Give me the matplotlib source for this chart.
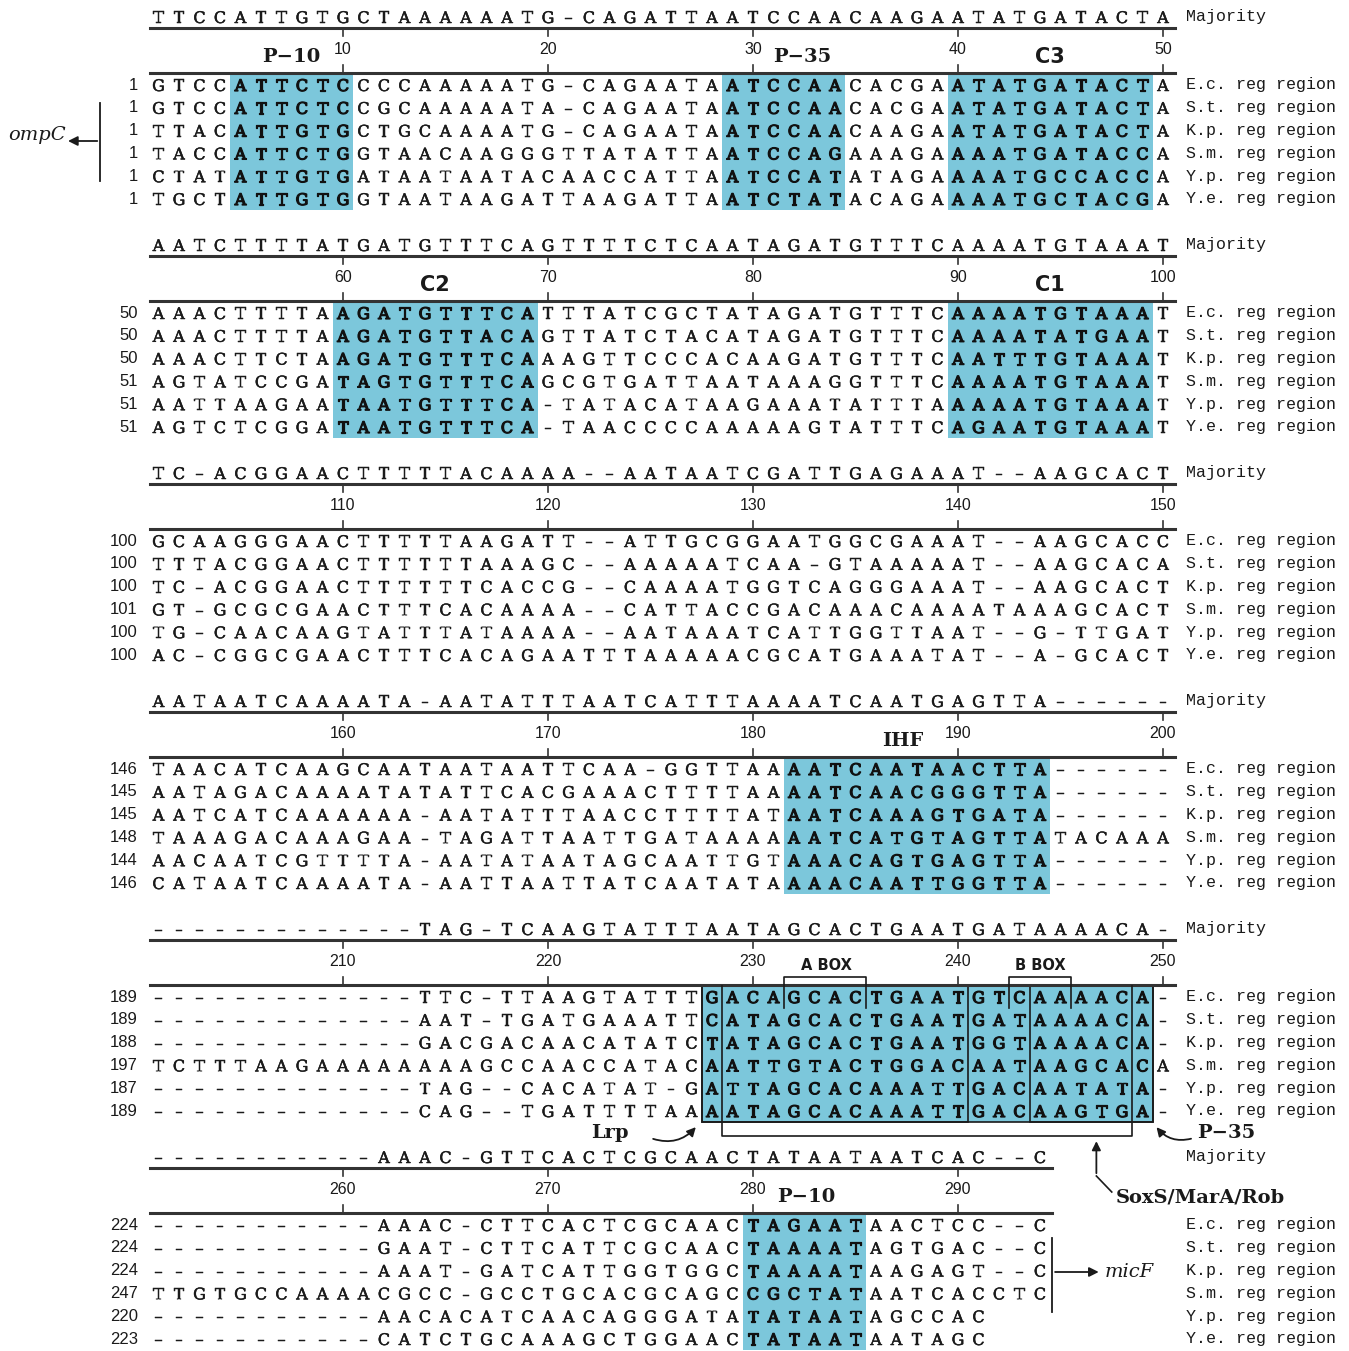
import matplotlib
matplotlib.use('Agg')
import matplotlib.pyplot as plt
import matplotlib.patheffects as pe
from matplotlib.patches import Rectangle

species = ['E.c.', 'S.t.', 'K.p.', 'S.m.', 'Y.p.', 'Y.e.']

majority = [
    'TTCCATTGTGCTAAAAAATG-CAGATTAATCCAACAAGAATATGATACTA',
    'AATCTTTTATGATGTTTCAGTTTTCTCAATAGATGTTTCAAAATGTAAAT',
    'TC-ACGGAACTTTTTACAAAA--AATAATCGATTGAGAAAT--AAGCACT',
    'AATAATCAAAATA-AATATTTAATCATTTAAAATCAATGAGTTA------',
    '-------------TAG-TCAAGTATTTAATAGCACTGAATGATAAAACA-',
    '-----------AAAC-GTTCACTCGCAACTATAATAATCAC--C',
]

block1 = [
    'GTCCATTCTCCCCAAAAATG-CAGAATAATCCAACACGAATATGATACTA',
    'GTCCATTCTCCGCAAAAATA-CAGAATAATCCAACACGAATATGATACTA',
    'TTACATTGTGCTGCAAAATG-CAGAATAATCCAACAAGAATATGATACTA',
    'TACCATTCTGGTAACAAGGGTTATATTAATCCAGAAAGAAAATGATACCA',
    'CTATATTGTGATAATAATACAACCATTAATCCATATAGAAAATGCCACCA',
    'TGCTATTGTGGTAATAAGATTAAGATTAATCTATACAGAAAATGCTACGA',
]
block2 = [
    'AAACTTTTAAGATGTTTCATTTATCGCTATAGATGTTTCAAAATGTAAAT',
    'AAACTTTTAAGATGTTACAGTTATCTACATAGATGTTTCAAAATATGAAT',
    'AAACTTCTAAGATGTTTCAAAGTTCCCACAAGATGTTTCAATTTGTAAAT',
    'AGTATCCGATAGTGTTTCAGCGTGATTAATAAAGGTTTCAAAATGTAAAT',
    'AATTAAGAATAATGTTTCA-TATACATAAGAAATATTTAAAAATGTAAAT',
    'AGTCTCGGATAATGTTTCA-TAACCCCAAAAAGTATTTCAGAATGTAAAT',
]
block3 = [
    'GCAAGGGAACTTTTTAAGATT--ATTGCGGAATGGCGAAAT--AAGCACC',
    'TTTACGGAACTTTTTTAAAGC--AAAAATCAA-GTAAAAAT--AAGCACA',
    'TC-ACGGAACTTTTTTCACCG--CAAAATGGTCAGGGAAAT--AAGCACT',
    'GT-GCGCGAACTTTCACAAAA--CATTACCGACAAACAAAATAAAGCACT',
    'TG-CAACAAGTATTTATAAAA--AATAAATCATTGGTTAAT--G-TTGAT',
    'AC-CGGCGAACTTTCACAGAATTTAAAAACGCATGAAATAT--A-GCACT',
]
block4 = [
    'TAACATCAAGCAATAATAATTCAA-GGTTAAAATCAATAACTTA------',
    'AATAGACAAAATATATTCACGAAACTTTTAAAATCAACGGGTTA------',
    'AATCATCAAAAAA-AATATTTAACCTTTTATAATCAAAGTGATA------',
    'TAAAGACAAAGAA-TAGATTAATTGATAAAAAATCATGTAGTTATACAAA',
    'AACAATCGTTTTA-AATATAATAGCAATTGTAAACAGTGAGTTA------',
    'CATAATCAAAATA-AATTAATTATCAATATAAAACAATTGGTTA------',
]
block5 = [
    '-------------TTC-TTAAGTATTTGACAGCACTGAATGTCAAAACA-',
    '-------------AAT-TGATGAAATTCATAGCACTGAATGATAAAACA-',
    '-------------GACGACAACATATCTATAGCACTGAATGGTAAAACA-',
    'TCTTTAAGAAAAAAAAGCCAACCATACAATTGTACTGGACAATAAGCACA',
    '-------------TAG--CACATAT-GATTAGCACAAATTGACAATATA-',
    '-------------CAG--TGATTTTAAAATAGCACAAATTGACAAGTGA-',
]
block6 = [
    '-----------AAAC-CTTCACTCGCAACTAGAATAACTCC--C',
    '-----------GAAT-CTTCATTCGCAACTAAAATAGTGAC--C',
    '-----------AAAT-GATCATTGGTGGCTAAAATAAGAGT--C',
    'TTGTGCCAAAACGCC-GCCTGCACGCAGCCGCTATAATCACCTC',
    '-----------AACACATCAACAGGGATATATAATAGCCAC',
    '-----------CATCTGCAAAGCTGGAACTATAATAATAGC',
]
blocks = [block1, block2, block3, block4, block5, block6]

starts = [
    [1, 1, 1, 1, 1, 1],
    [50, 50, 50, 51, 51, 51],
    [100, 100, 100, 101, 100, 100],
    [146, 145, 145, 148, 144, 146],
    [189, 189, 188, 197, 187, 189],
    [224, 224, 224, 247, 220, 223],
]

# shaded motif columns per block (first, last)
highlights = [
    [(5, 10), (29, 34), (40, 49)],
    [(10, 19), (40, 49)],
    [],
    [(32, 44)],
    [(28, 49)],
    [(30, 35)],
]
motif_labels = [
    [('P\u221210', 7.5, 'serif'), ('P\u221235', 32.4, 'serif'), ('C3', 44.5, 'sans')],
    [('C2', 14.5, 'sans'), ('C1', 44.5, 'sans')],
    [],
    [('IHF', 37.3, 'serif')],
    [],
    [('P\u221210', 32.6, 'serif')],
]

W, H = 1349, 1351
COL0_PX = 158.5
COL_W = 20.5
BLOCK_H = 228
ROW_H = 22.8
HL = '#7cc7db'
SEQ_FONT = 'DejaVu Serif'
NUM_FONT = ['Liberation Sans Narrow', 'Liberation Sans', 'DejaVu Sans']
LAB_FONT = 'Liberation Mono'
INK = '#1a1a1a'
heavy = [pe.withStroke(linewidth=0.9, foreground='#111111')]
medium = [pe.withStroke(linewidth=0.35, foreground=INK)]

fig = plt.figure(figsize=(W / 100, H / 100), dpi=100)
ax = fig.add_axes([0, 0, 1, 1])
x0 = 1 - COL0_PX / COL_W
ax.set_xlim(x0, x0 + W / COL_W)
ax.set_ylim(H, 0)
ax.axis('off')


def in_hl(b, c):
    for c0, c1 in highlights[b]:
        if c0 <= c <= c1:
            return True
    return False


def glyph(ch):
    return '\u2013' if ch == '-' else ch


for b in range(6):
    off = b * BLOCK_H
    ncol = len(majority[b])
    y_maj = 17 + off
    y_top = 28 + off
    y_num = 50 + off
    y_bot = 73 + off
    rows_y = [85 + off + r * ROW_H for r in range(6)]

    for c0, c1 in highlights[b]:
        ax.add_patch(Rectangle((c0 - 0.5, rows_y[0] - ROW_H / 2), c1 - c0 + 1,
                               rows_y[-1] - rows_y[0] + ROW_H,
                               facecolor=HL, edgecolor='none', zorder=0))

    for c, ch in enumerate(majority[b], start=1):
        ax.text(c, y_maj + 6, glyph(ch), ha='center', va='baseline', family=SEQ_FONT,
                fontsize=11.5, color=INK, path_effects=medium)
    ax.text(51.1, y_maj, 'Majority', ha='left', va='center', family=LAB_FONT,
            fontsize=12, color=INK)

    ax.plot([0.6, ncol + 0.6], [y_top, y_top], color='#333333', lw=2.2)
    ax.plot([0.6, ncol + 0.6], [y_bot, y_bot], color='#333333', lw=2.2)
    for c in range(1, ncol + 1):
        pos = 50 * b + c
        if pos % 10 == 0:
            ax.plot([c, c], [y_top, y_top + 8], color='#333333', lw=1.2)
            ax.plot([c, c], [y_bot - 8, y_bot], color='#333333', lw=1.2)
            ax.text(c, y_num, str(pos), ha='center', va='center', family=NUM_FONT,
                    fontsize=11.5, color=INK)

    for txt, cx, kind in motif_labels[b]:
        ax.text(cx, y_bot - 16, txt, ha='center', va='center',
                family='DejaVu Serif' if kind == 'serif' else 'DejaVu Sans',
                fontweight='bold', fontsize=14 if kind == 'serif' else 15, color=INK)

    for r, seq in enumerate(blocks[b]):
        y = rows_y[r]
        ax.text(0.0, y, str(starts[b][r]), ha='right', va='center', family=NUM_FONT,
                fontsize=12, color=INK)
        for c, ch in enumerate(seq, start=1):
            hl = in_hl(b, c)
            ax.text(c, y + 6, glyph(ch), ha='center', va='baseline', family=SEQ_FONT,
                    fontsize=11.5, color='#111111' if hl else INK,
                    path_effects=heavy if hl else medium)
        ax.text(51.1, y, species[r] + ' reg region', ha='left', va='center',
                family=LAB_FONT, fontsize=12, color=INK)

# ompC bracket (block 1)
r1 = [85 + r * ROW_H for r in range(6)]
ax.plot([-1.85, -1.85], [r1[1] - 5, r1[4] + 5], color=INK, lw=1.3)
ax.annotate('', xy=(-3.55, 141), xytext=(-1.85, 141),
            arrowprops=dict(arrowstyle='-|>', color=INK, lw=1.3, mutation_scale=14))
ax.text(-4.95, 135, 'ompC', ha='center', va='center', family='DejaVu Serif',
        style='italic', fontsize=14, color=INK)

# block 5 boxes
off5 = 4 * BLOCK_H
r5 = [85 + off5 + r * ROW_H for r in range(6)]
top5 = r5[0] - ROW_H / 2
bot5 = r5[-1] + ROW_H / 2
lk = dict(color=INK, lw=1.2)
ax.add_patch(Rectangle((27.5, top5), 13, bot5 - top5, fill=False, edgecolor=INK, lw=1.2))
ax.add_patch(Rectangle((43.5, top5), 6, bot5 - top5, fill=False, edgecolor=INK, lw=1.2))
ax.add_patch(Rectangle((27.5, top5), 22, bot5 - top5, fill=False, edgecolor=INK, lw=1.2))
ybr = bot5 + 14
ax.plot([28.5, 28.5, 48.5, 48.5], [top5, ybr, ybr, top5], **lk)
# A BOX / B BOX brackets
ybox = top5 - 9
ax.plot([31.5, 31.5, 35.5, 35.5], [r5[0] + ROW_H / 2, ybox, ybox, r5[0] + ROW_H / 2], **lk)
ax.plot([42.5, 42.5, 45.5, 45.5], [r5[0] + ROW_H / 2, ybox, ybox, r5[0] + ROW_H / 2], **lk)
ax.text(33.6, ybox - 11, 'A BOX', ha='center', va='center', family='DejaVu Sans',
        fontweight='bold', fontsize=10.5, color=INK)
ax.text(44.0, ybox - 11, 'B BOX', ha='center', va='center', family='DejaVu Sans',
        fontweight='bold', fontsize=10.5, color=INK)

# Lrp / P-35 / SoxS arrows
ax.text(23.0, 1133, 'Lrp', ha='center', va='center', family='DejaVu Serif',
        fontweight='bold', fontsize=14, color=INK)
ax.annotate('', xy=(27.3, 1125), xytext=(25.0, 1138),
            arrowprops=dict(arrowstyle='-|>', connectionstyle='arc3,rad=0.35',
                            color=INK, lw=1.3, mutation_scale=13))
ax.text(53.1, 1133, 'P\u221235', ha='center', va='center', family='DejaVu Serif',
        fontweight='bold', fontsize=14, color=INK)
ax.annotate('', xy=(49.6, 1125), xytext=(51.5, 1138),
            arrowprops=dict(arrowstyle='-|>', connectionstyle='arc3,rad=-0.35',
                            color=INK, lw=1.3, mutation_scale=13))
ax.plot([46.75, 46.75, 47.5], [1176, 1176, 1192], **lk)
ax.annotate('', xy=(46.75, ybr + 2), xytext=(46.75, 1176),
            arrowprops=dict(arrowstyle='-|>', color=INK, lw=1.3, mutation_scale=13))
ax.text(47.7, 1197, 'SoxS/MarA/Rob', ha='left', va='center', family='DejaVu Serif',
        fontweight='bold', fontsize=14, color=INK)

# micF bracket (block 6)
off6 = 5 * BLOCK_H
r6 = [85 + off6 + r * ROW_H for r in range(6)]
ax.plot([44.6, 44.6], [r6[1] - 10, r6[4] - 4], color=INK, lw=1.3)
ax.annotate('', xy=(47.0, 1272), xytext=(44.6, 1272),
            arrowprops=dict(arrowstyle='-|>', color=INK, lw=1.3, mutation_scale=14))
ax.text(47.15, 1272, 'micF', ha='left', va='center', family='DejaVu Serif',
        style='italic', fontsize=14, color=INK)

fig.savefig('out.png', dpi=100, facecolor='white')
